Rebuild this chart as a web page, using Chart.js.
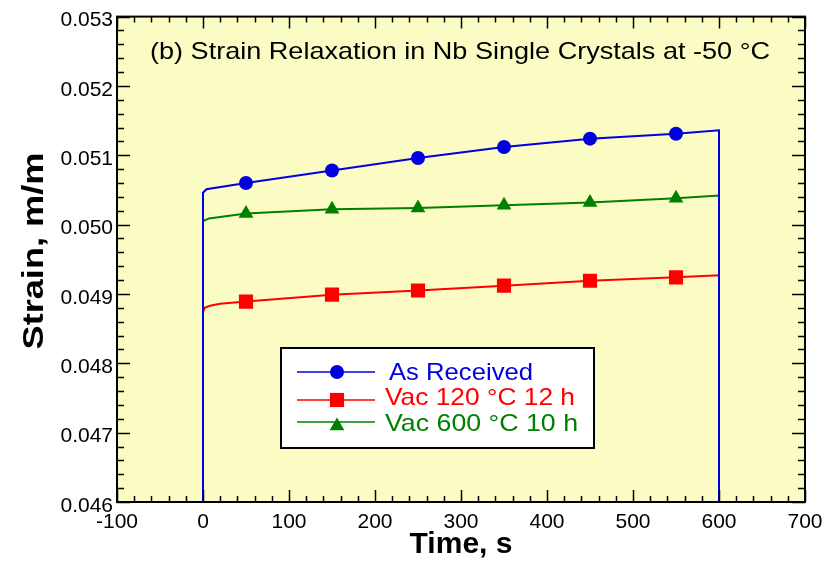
<!DOCTYPE html>
<html>
<head>
<meta charset="utf-8">
<script src="https://cdn.jsdelivr.net/npm/chart.js@4/dist/chart.umd.min.js"></script>
<style>
  html, body { margin: 0; padding: 0; background: #fff; }
  #wrap { width: 837px; height: 561px; }
</style>
</head>
<body>
<div id="wrap"><canvas id="myChart" width="837" height="561"></canvas></div>
<script>
// DATA
const markerTimes = [50, 150, 250, 350, 450, 550];

const asReceivedTime = [0, 0, 4, 50, 150, 250, 350, 450, 550, 600, 600];
const asReceivedStrain = [0.046, 0.05046, 0.05051, 0.0506, 0.05078, 0.05096, 0.05112, 0.05124, 0.05131, 0.05136, 0.046];

const vac120Time = [0, 0, 2, 8, 20, 50, 150, 250, 350, 450, 550, 600, 600];
const vac120Strain = [0.046, 0.04874, 0.0488, 0.04883, 0.04886, 0.04889, 0.04899, 0.04905, 0.04912, 0.04919, 0.04924, 0.04927, 0.046];

const vac600Time = [0, 0, 7, 50, 150, 250, 350, 450, 550, 600, 600];
const vac600Strain = [0.046, 0.05005, 0.05009, 0.05016, 0.05022, 0.05024, 0.05028, 0.05032, 0.05038, 0.05042, 0.046];

const seriesNames = ["As Received", "Vac 120 \u00b0C 12 h", "Vac 600 \u00b0C 10 h"];
const seriesColors = ["#0000e0", "#ff0000", "#008000"];
const seriesMarkers = ["circle", "rect", "triangle"];
const markerSizes = [7, 10, 8.5];

const chartTitle = "(b) Strain Relaxation in Nb Single Crystals at -50 \u00b0C";
const xTitle = "Time, s";
const yTitle = "Strain, m/m";

const FONT = "'Liberation Sans', Arial, Helvetica, sans-serif";

function toPoints(xs, ys) {
  return xs.map((x, i) => ({ x: x, y: ys[i] }));
}

function makeSet(i, xs, ys) {
  return {
    label: seriesNames[i],
    data: toPoints(xs, ys),
    borderColor: seriesColors[i],
    backgroundColor: seriesColors[i],
    borderWidth: 2,
    showLine: true,
    tension: 0,
    pointStyle: seriesMarkers[i],
    pointRadius: (c) => (c.raw && markerTimes.includes(c.raw.x) ? markerSizes[i] : 0),
    pointBorderWidth: 0,
    pointHoverRadius: 0,
  };
}

// text squeezed/stretched to a given width (reference glyphs are wider than Liberation)
function fitText(ctx, text, x, y, width) {
  const w = ctx.measureText(text).width;
  ctx.save();
  ctx.translate(x, y);
  ctx.scale(width / w, 1);
  ctx.fillText(text, 0, 0);
  ctx.restore();
}

// plot background, frame, inside ticks, title, y title and legend box
const decorPlugin = {
  id: "decor",
  beforeDraw(chart) {
    const { ctx, chartArea: a } = chart;
    ctx.save();
    ctx.fillStyle = "#fbfcc4";
    ctx.fillRect(a.left, a.top, a.right - a.left, a.bottom - a.top);
    ctx.restore();
  },
  afterDatasetsDraw(chart) {
    const { ctx, chartArea: a, scales } = chart;
    ctx.save();
    // ticks
    ctx.strokeStyle = "#000";
    ctx.lineWidth = 1.5;
    ctx.beginPath();
    for (let v = -100; v <= 700; v += 20) {
      const px = Math.round(scales.x.getPixelForValue(v)) + 0.5;
      const len = v % 100 === 0 ? 12 : 6;
      ctx.moveTo(px, a.bottom); ctx.lineTo(px, a.bottom - len);
      ctx.moveTo(px, a.top); ctx.lineTo(px, a.top + len);
    }
    for (let k = 0; k <= 35; k++) {
      const v = 0.046 + k * 0.0002;
      const py = Math.round(scales.y.getPixelForValue(v)) + 0.5;
      const len = k % 5 === 0 ? 13 : 7;
      ctx.moveTo(a.left, py); ctx.lineTo(a.left + len, py);
      ctx.moveTo(a.right, py); ctx.lineTo(a.right - len, py);
    }
    ctx.stroke();
    // frame
    ctx.lineWidth = 2;
    ctx.strokeRect(a.left, a.top, a.right - a.left, a.bottom - a.top);

    // title
    ctx.fillStyle = "#000";
    ctx.font = "24px " + FONT;
    ctx.textBaseline = "alphabetic";
    ctx.textAlign = "left";
    fitText(ctx, chartTitle, 150, 59, 620);

    // y axis title
    ctx.save();
    ctx.font = "bold 30px " + FONT;
    ctx.translate(43, 251);
    ctx.rotate(-Math.PI / 2);
    const tw = ctx.measureText(yTitle).width;
    ctx.scale(197 / tw, 1);
    ctx.textAlign = "center";
    ctx.fillText(yTitle, 0, 0);
    ctx.restore();

    // legend
    const bx = 281, by = 348, bw = 313, bh = 100;
    ctx.fillStyle = "#fff";
    ctx.fillRect(bx, by, bw, bh);
    ctx.lineWidth = 2;
    ctx.strokeStyle = "#000";
    ctx.strokeRect(bx, by, bw, bh);
    const lineRows = [372, 400, 422];
    const markRows = [372, 400, 426];
    const textRows = [380, 405, 431];
    const textLeft = [389, 385, 385];
    const textWidth = [144, 190, 193];
    seriesNames.forEach((name, i) => {
      ctx.strokeStyle = seriesColors[i];
      ctx.fillStyle = seriesColors[i];
      ctx.lineWidth = 1.5;
      ctx.beginPath();
      ctx.moveTo(297, lineRows[i]); ctx.lineTo(375, lineRows[i]);
      ctx.stroke();
      Chart.helpers.drawPoint(ctx, { pointStyle: seriesMarkers[i], radius: markerSizes[i], borderWidth: 0 }, 337, markRows[i]);
      ctx.fillStyle = seriesColors[i];
      ctx.font = "24px " + FONT;
      ctx.textAlign = "left";
      ctx.textBaseline = "alphabetic";
      fitText(ctx, name, textLeft[i], textRows[i], textWidth[i]);
    });
    ctx.restore();
  },
};

const ctx = document.getElementById("myChart").getContext("2d");
const chart = new Chart(ctx, {
  type: "scatter",
  data: {
    datasets: [
      makeSet(0, asReceivedTime, asReceivedStrain),
      makeSet(1, vac120Time, vac120Strain),
      makeSet(2, vac600Time, vac600Strain),
    ],
  },
  options: {
    responsive: false,
    animation: false,
    layout: { padding: { top: 15, right: 32, left: 0, bottom: 0 } },
    plugins: { legend: { display: false }, tooltip: { enabled: false } },
    scales: {
      x: {
        type: "linear",
        min: -100,
        max: 700,
        afterFit: (s) => { s.height = 59; },
        grid: { display: false, drawTicks: false },
        border: { display: false },
        ticks: { stepSize: 100, color: "#000", padding: 8, font: { family: FONT, size: 21 } },
        title: { display: true, text: xTitle, color: "#000", padding: { top: 0, bottom: -2 }, font: { family: FONT, size: 30, weight: "bold" } },
      },
      y: {
        type: "linear",
        min: 0.046,
        max: 0.053,
        afterFit: (s) => { s.width = 117; },
        grid: { display: false, drawTicks: false },
        border: { display: false },
        ticks: {
          stepSize: 0.001,
          color: "#000",
          padding: 4,
          labelOffset: 4,
          font: { family: FONT, size: 21 },
          callback: (v) => v.toFixed(3),
        },
      },
    },
  },
  plugins: [decorPlugin],
});
</script>
</body>
</html>
